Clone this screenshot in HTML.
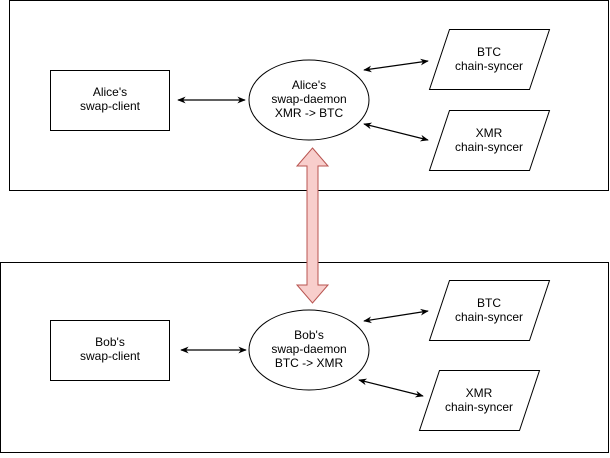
<!DOCTYPE html>
<html><head><meta charset="utf-8"><style>
html,body{margin:0;padding:0;background:#fff}
svg text{font-family:"Liberation Sans",Arial,sans-serif;font-size:12px;fill:#000;text-anchor:middle}
</style></head><body>
<svg width="610" height="453" xmlns="http://www.w3.org/2000/svg">
<defs>
<marker id="a" viewBox="0 0 10 10" refX="9" refY="5" markerWidth="7" markerHeight="7" orient="auto-start-reverse"><path d="M0,1 L10,5 L0,9 L3,5 z" fill="#000"/></marker>
</defs>
<rect x="9.5" y="0.5" width="599" height="190" fill="#fff" stroke="#000"/>
<rect x="0.5" y="262.5" width="608" height="190" fill="#fff" stroke="#000"/>
<g fill="#fff" stroke="#000">
<rect x="50.5" y="70.5" width="119" height="60"/>
<rect x="50.5" y="320.5" width="119" height="60"/>
<ellipse cx="309" cy="100" rx="60" ry="40"/>
<ellipse cx="309" cy="350" rx="60" ry="40"/>
<polygon points="449.5,29.5 549.5,29.5 529.5,89.5 429.5,89.5"/>
<polygon points="449.5,110.5 549.5,110.5 529.5,170.5 429.5,170.5"/>
<polygon points="449.5,280.5 549.5,280.5 529.5,340.5 429.5,340.5"/>
<polygon points="439.5,370.5 539.5,370.5 519.5,430.5 419.5,430.5"/>
</g>
<g stroke="#000" stroke-width="1.2" marker-start="url(#a)" marker-end="url(#a)">
<line x1="178" y1="100" x2="245" y2="100"/>
<line x1="364" y1="70" x2="428" y2="61"/>
<line x1="364" y1="124" x2="428" y2="140"/>
<line x1="181" y1="350" x2="246" y2="350"/>
<line x1="364" y1="321" x2="428" y2="311"/>
<line x1="359" y1="380" x2="423" y2="396"/>
</g>
<polygon points="312.5,148 328,166 318,166 318,285 328,285 312.5,303 297,285 307,285 307,166 297,166" fill="#f8cecc" stroke="#b85450"/>
<text x="110" y="96">Alice's</text><text x="110" y="110">swap-client</text>
<text x="110" y="346">Bob's</text><text x="110" y="360">swap-client</text>
<text x="309" y="89">Alice's</text><text x="309" y="103">swap-daemon</text><text x="309" y="117">XMR -&gt; BTC</text>
<text x="309" y="339">Bob's</text><text x="309" y="353">swap-daemon</text><text x="309" y="367">BTC -&gt; XMR</text>
<text x="489" y="56">BTC</text><text x="489" y="70">chain-syncer</text>
<text x="489" y="137">XMR</text><text x="489" y="151">chain-syncer</text>
<text x="489" y="307">BTC</text><text x="489" y="321">chain-syncer</text>
<text x="479" y="397">XMR</text><text x="479" y="411">chain-syncer</text>
</svg>
</body></html>
